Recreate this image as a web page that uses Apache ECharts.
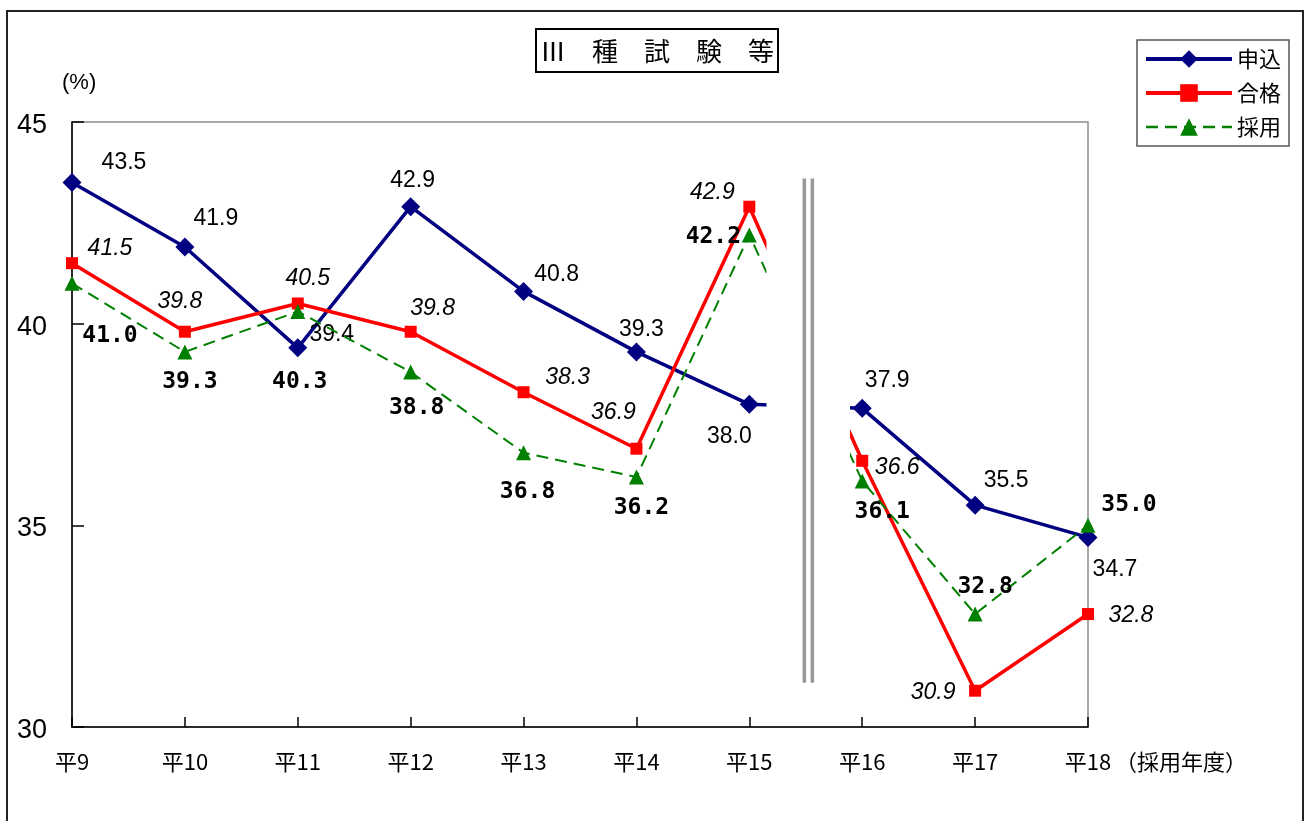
<!DOCTYPE html>
<html>
<head>
<meta charset="utf-8">
<script src="https://cdn.jsdelivr.net/npm/echarts@6/dist/echarts.min.js"></script>
<style>
html,body{margin:0;padding:0;background:#fff;}
#c{width:1309px;height:821px;}
</style>
</head>
<body>
<div id="c"></div>
<script>
// ---- data ----
const categories = ['平9','平10','平11','平12','平13','平14','平15','平16','平17','平18'];
const moushikomi = [43.5, 41.9, 39.4, 42.9, 40.8, 39.3, 38.0, 37.9, 35.5, 34.7];
const goukaku    = [41.5, 39.8, 40.5, 39.8, 38.3, 36.9, 42.9, 36.6, 30.9, 32.8];
const saiyou     = [41.0, 39.3, 40.3, 38.8, 36.8, 36.2, 42.2, 36.1, 32.8, 35.0];
const yTicks = [30, 35, 40, 45];
const seriesNames = ['申込', '合格', '採用'];
const titleText = 'Ⅲ　種　試　験　等';
const xSuffix = '（採用年度）';
const yUnit = '(%)';

// ---- label placement (styling, px offsets from each point) ----
const offMoushikomi = [[52,-20],[31,-28],[34,-13],[2,-26],[33,-17],[5,-22],[-20,32],[25,-28],[31,-25],[27,32]];
const offGoukaku    = [[38,-15],[-5,-30],[10,-25],[22,-23],[44,-15],[-23,-36],[-37,-14],[35,7],[-42,2],[43,2]];
const offSaiyou     = [[38,53],[5,30],[2,70],[6,36],[4,39],[5,31],[-36,2],[20,31],[10,-27],[41,-20]];

const sansFont = '"Liberation Sans", "Noto Sans CJK JP", sans-serif';
const cjkFont = '"Noto Sans CJK JP", "Liberation Sans", sans-serif';

function mk(values, offs) {
  return values.map((v, i) => ({ value: v, label: { offset: offs[i] } }));
}
const fmt1 = p => Number(p.value).toFixed(1);

const chart = echarts.init(document.getElementById('c'), null, { renderer: 'canvas' });

const option = {
  animation: false,
  backgroundColor: '#fff',
  title: {
    text: titleText,
    left: 536, top: 29,
    padding: [7, 4, 6, 4],
    borderColor: '#000', borderWidth: 2,
    textStyle: { fontFamily: cjkFont, fontSize: 26, fontWeight: 'normal', color: '#000', lineHeight: 30 }
  },
  legend: {
    data: [
      { name: seriesNames[0], lineStyle: { width: 4 } },
      { name: seriesNames[1], lineStyle: { width: 4 } },
      { name: seriesNames[2], lineStyle: { width: 2.5 } }
    ],
    orient: 'vertical',
    left: 1137, top: 40,
    padding: [8, 8, 8, 7],
    itemWidth: 86, itemHeight: 22, itemGap: 12,
    borderColor: '#555', borderWidth: 1.5,
    textStyle: { fontFamily: cjkFont, fontSize: 22, color: '#000' }
  },
  grid: {
    left: 72, right: 221, top: 122, bottom: 94,
    show: true, borderColor: '#8c8c8c', borderWidth: 1.5, backgroundColor: 'transparent'
  },
  xAxis: {
    type: 'category',
    data: categories,
    boundaryGap: false,
    axisLine: { lineStyle: { color: '#000', width: 1.5 } },
    axisTick: { inside: true, length: 10, lineStyle: { color: '#000', width: 1.5 } },
    axisLabel: { margin: 24, fontFamily: cjkFont, fontSize: 22, color: '#000', lineHeight: 22 },
    splitLine: { show: false }
  },
  yAxis: {
    type: 'value',
    min: yTicks[0], max: yTicks[yTicks.length - 1], interval: 5,
    axisLine: { show: true, lineStyle: { color: '#000', width: 1.5 } },
    axisTick: { show: true, inside: true, length: 12, lineStyle: { color: '#000', width: 1.5 } },
    axisLabel: { margin: 25, fontFamily: sansFont, fontSize: 27, color: '#000', verticalAlign: 'top', lineHeight: 27, padding: [-10, 0, 0, 0] },
    splitLine: { show: false }
  },
  series: [
    {
      name: seriesNames[0], type: 'line', z: 3,
      data: mk(moushikomi, offMoushikomi),
      symbol: 'diamond', symbolSize: 19,
      itemStyle: { color: '#000080' },
      lineStyle: { color: '#000080', width: 3.5 },
      label: { show: true, position: 'inside', align: 'center', verticalAlign: 'middle', formatter: fmt1,
               fontFamily: sansFont, fontSize: 23, color: '#000' }
    },
    {
      name: seriesNames[1], type: 'line', z: 4,
      data: mk(goukaku, offGoukaku),
      symbol: 'rect', symbolSize: 12,
      itemStyle: { color: '#ff0000' },
      lineStyle: { color: '#ff0000', width: 3.5 },
      label: { show: true, position: 'inside', align: 'center', verticalAlign: 'middle', formatter: fmt1,
               fontFamily: sansFont, fontSize: 23, fontStyle: 'italic', color: '#000' }
    },
    {
      name: seriesNames[2], type: 'line', z: 5,
      data: mk(saiyou, offSaiyou),
      symbol: 'triangle', symbolSize: 15,
      itemStyle: { color: '#008000' },
      lineStyle: { color: '#008000', width: 2, type: [12, 7] },
      label: { show: true, position: 'inside', align: 'center', verticalAlign: 'middle', formatter: fmt1,
               fontFamily: '"DejaVu Sans Mono", monospace', fontSize: 23, fontWeight: 'bold', color: '#000' }
    }
  ]
};

chart.setOption(option);

// ---- decorations derived from the axes ----
const x15 = chart.convertToPixel({ xAxisIndex: 0 }, '平15');
const x16 = chart.convertToPixel({ xAxisIndex: 0 }, '平16');
const x18 = chart.convertToPixel({ xAxisIndex: 0 }, '平18');
const dx = x16 - x15;
const yTop = chart.convertToPixel({ yAxisIndex: 0 }, 45);
const yBot = chart.convertToPixel({ yAxisIndex: 0 }, 30);
const yL1 = chart.convertToPixel({ yAxisIndex: 0 }, 43.6);
const yL2 = chart.convertToPixel({ yAxisIndex: 0 }, 31.1);

chart.setOption({
  graphic: [
    { type: 'rect', z: 100, silent: true,
      shape: { x: 7, y: 11, width: 1296, height: 840 },
      style: { fill: 'none', stroke: '#222', lineWidth: 2 } },
    { type: 'rect', z: 50, silent: true,
      shape: { x: x15 + dx * 0.152, y: yTop + 2, width: dx * 0.74, height: yBot - yTop - 3 },
      style: { fill: '#fff' } },
    { type: 'line', z: 60, silent: true,
      shape: { x1: x15 + dx * 0.487, y1: yL1, x2: x15 + dx * 0.487, y2: yL2 },
      style: { stroke: '#999', lineWidth: 3.5 } },
    { type: 'line', z: 60, silent: true,
      shape: { x1: x15 + dx * 0.558, y1: yL1, x2: x15 + dx * 0.558, y2: yL2 },
      style: { stroke: '#999', lineWidth: 3.5 } },
    { type: 'text', z: 60, silent: true, x: x18 + 27, y: yBot + 24,
      style: { text: xSuffix, fontFamily: cjkFont, fontSize: 22, fill: '#000', lineHeight: 22 } },
    { type: 'text', z: 60, silent: true, x: 62, y: 72,
      style: { text: yUnit, fontFamily: sansFont, fontSize: 22, fill: '#000' } }
  ]
});
</script>
</body>
</html>
